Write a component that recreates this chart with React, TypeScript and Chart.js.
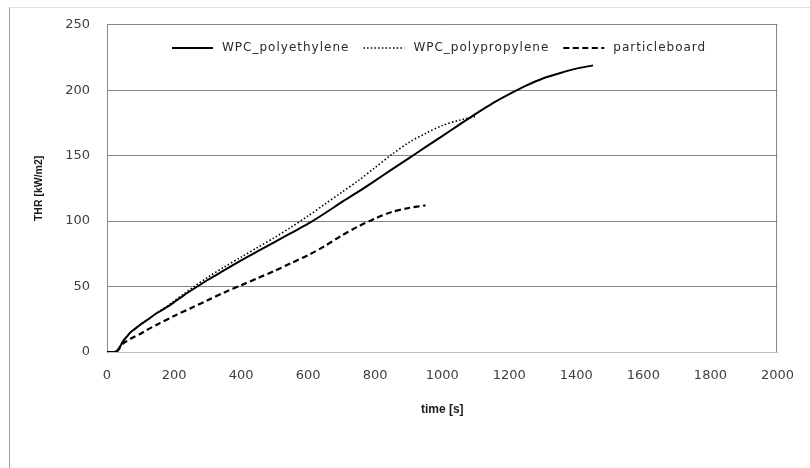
import React, { useEffect, useRef } from "react";
import { Chart, registerables } from "chart.js";

Chart.register(...registerables);

// ---- data ----
const seriesNames = ["WPC_polyethylene", "WPC_polypropylene", "particleboard"];

const xTickValues = [0, 200, 400, 600, 800, 1000, 1200, 1400, 1600, 1800, 2000];
const yTickValues = [0, 50, 100, 150, 200, 250];

const peTime = [0, 10, 20, 25, 30, 35, 40, 45, 50, 60, 70, 80, 100, 120, 150, 180, 200, 230, 260, 300, 350, 400, 450, 500, 550, 600, 650, 700, 750, 800, 850, 900, 950, 1000, 1050, 1100, 1150, 1200, 1250, 1300, 1350, 1400, 1450];
const peTHR = [0, 0, 0, 0.3, 1, 2.5, 4.5, 7, 9, 12, 15, 17, 21, 24.5, 30, 34.5, 38, 43.5, 48.5, 55, 62.5, 70, 77, 84, 91, 98, 106, 114.5, 122.5, 131, 139.5, 148, 156.5, 165, 173.5, 182, 190, 197, 203.5, 209, 213, 216.5, 219];

const ppTime = [0, 10, 20, 25, 30, 35, 40, 45, 50, 60, 70, 80, 100, 120, 150, 180, 200, 230, 260, 300, 350, 400, 450, 500, 550, 600, 650, 700, 750, 800, 850, 900, 950, 1000, 1050, 1100];
const ppTHR = [0, 0, 0, 0.3, 1, 2.5, 4.5, 7, 9, 12, 15, 17, 21, 24.5, 30, 35, 39, 44.5, 50, 57, 65, 72.5, 80, 87.5, 95.5, 104, 113, 122, 131, 141, 151, 160, 167, 173, 177, 180];

const pbTime = [0, 10, 20, 25, 30, 35, 40, 50, 60, 70, 80, 100, 120, 150, 200, 250, 300, 350, 400, 450, 500, 550, 600, 650, 700, 750, 800, 850, 900, 950];
const pbTHR = [0, 0, 0, 0, 0.5, 2, 4, 7, 8.5, 10, 11.5, 14, 17, 21, 27.5, 33.5, 39.5, 45.5, 51, 56.5, 62, 68, 74, 81, 89, 96, 102, 107, 110, 112];

const toXY = (ts: number[], vs: number[]) => ts.map((t, i) => ({ x: t, y: vs[i] }));

const framePlugin = {
  id: "frame",
  afterDraw(chart: any) {
    const { ctx, chartArea } = chart;
    ctx.save();
    ctx.strokeStyle = "#868686";
    ctx.lineWidth = 1;
    ctx.beginPath();
    const x = Math.round(chartArea.right) - 0.5;
    ctx.moveTo(x, chartArea.top);
    ctx.lineTo(x, chartArea.bottom);
    ctx.stroke();
    ctx.restore();
  },
};

const legendPlugin = {
  id: "inlineLegend",
  afterDraw(chart: any) {
    const { ctx, chartArea } = chart;
    ctx.save();
    ctx.font = '12px "DejaVu Sans"';
    try {
      (ctx as any).letterSpacing = "1px";
    } catch (e) {}
    ctx.textBaseline = "middle";
    ctx.textAlign = "left";
    let x = chartArea.left + 65;
    const y = 48;
    chart.data.datasets.forEach((ds: any) => {
      ctx.beginPath();
      ctx.setLineDash(ds.borderDash || []);
      ctx.lineWidth = ds.borderWidth;
      ctx.strokeStyle = ds.borderColor;
      ctx.moveTo(x, y);
      ctx.lineTo(x + 41, y);
      ctx.stroke();
      ctx.setLineDash([]);
      ctx.fillStyle = "#2a2a2a";
      ctx.fillText(ds.label, x + 50, y);
      x += 50 + ctx.measureText(ds.label).width + 14;
    });
    ctx.restore();
  },
};

export default function App() {
  const ref = useRef<HTMLCanvasElement>(null);

  useEffect(() => {
    if (!ref.current) return;
    const tickFont = { family: "DejaVu Sans", size: 13 };
    const plain = (v: any) => String(v);
    const chart = new Chart(ref.current, {
      type: "line",
      data: {
        datasets: [
          {
            label: seriesNames[0],
            data: toXY(peTime, peTHR),
            borderColor: "#000000",
            backgroundColor: "#000000",
            borderWidth: 2,
            borderDash: [],
            pointRadius: 0,
            tension: 0.3,
          },
          {
            label: seriesNames[1],
            data: toXY(ppTime, ppTHR),
            borderColor: "#000000",
            backgroundColor: "#000000",
            borderWidth: 1.6,
            borderDash: [1.5, 2.2],
            pointRadius: 0,
            tension: 0.3,
          },
          {
            label: seriesNames[2],
            data: toXY(pbTime, pbTHR),
            borderColor: "#000000",
            backgroundColor: "#000000",
            borderWidth: 2.2,
            borderDash: [6, 3.5],
            pointRadius: 0,
            tension: 0.3,
          },
        ],
      },
      options: {
        animation: false,
        responsive: false,
        layout: { padding: { top: 23, right: 24, left: 0, bottom: 0 } },
        plugins: {
          legend: { display: false },
          tooltip: { enabled: false },
        },
        scales: {
          x: {
            type: "linear",
            min: 0,
            max: 2000,
            afterFit: (s: any) => {
              s.height = 116;
            },
            afterBuildTicks: (s: any) => {
              s.ticks = xTickValues.map((v) => ({ value: v }));
            },
            grid: { display: false, drawTicks: false },
            border: { display: true, color: "#c0c0c0" },
            ticks: { padding: 16, color: "#404040", font: tickFont, maxRotation: 0, callback: plain },
            title: {
              display: true,
              text: "time [s]",
              color: "#1a1a1a",
              font: { family: "Liberation Sans", size: 12, weight: "bold" },
              padding: { top: 0, bottom: 51 },
            },
          },
          y: {
            type: "linear",
            min: 0,
            max: 250,
            afterFit: (s: any) => {
              s.width = 107;
            },
            afterBuildTicks: (s: any) => {
              s.ticks = yTickValues.map((v) => ({ value: v }));
            },
            grid: {
              drawTicks: false,
              color: (c: any) => (c.tick && c.tick.value === 0 ? "#c0c0c0" : "#868686"),
            },
            border: { display: true, color: "#868686" },
            ticks: { padding: 17, color: "#404040", font: tickFont, callback: plain },
            title: {
              display: true,
              text: "THR [kW/m2]",
              color: "#1a1a1a",
              font: { family: "Liberation Sans", size: 10.5, weight: "bold" },
              padding: { top: 33, bottom: 0 },
            },
          },
        },
      },
      plugins: [framePlugin, legendPlugin],
    });
    return () => chart.destroy();
  }, []);

  return (
    <div style={{ position: "absolute", left: 0, top: 0, width: 810, height: 468, overflow: "hidden" }}>
      <div
        style={{
          position: "absolute",
          left: 9,
          top: 7,
          width: 900,
          height: 600,
          borderLeft: "1px solid #a0a0a0",
          borderTop: "1px solid #e0e0e0",
        }}
      />
      <canvas
        ref={ref}
        width={810}
        height={468}
        style={{ position: "absolute", left: 0, top: 0, width: 810, height: 468 }}
      />
    </div>
  );
}
